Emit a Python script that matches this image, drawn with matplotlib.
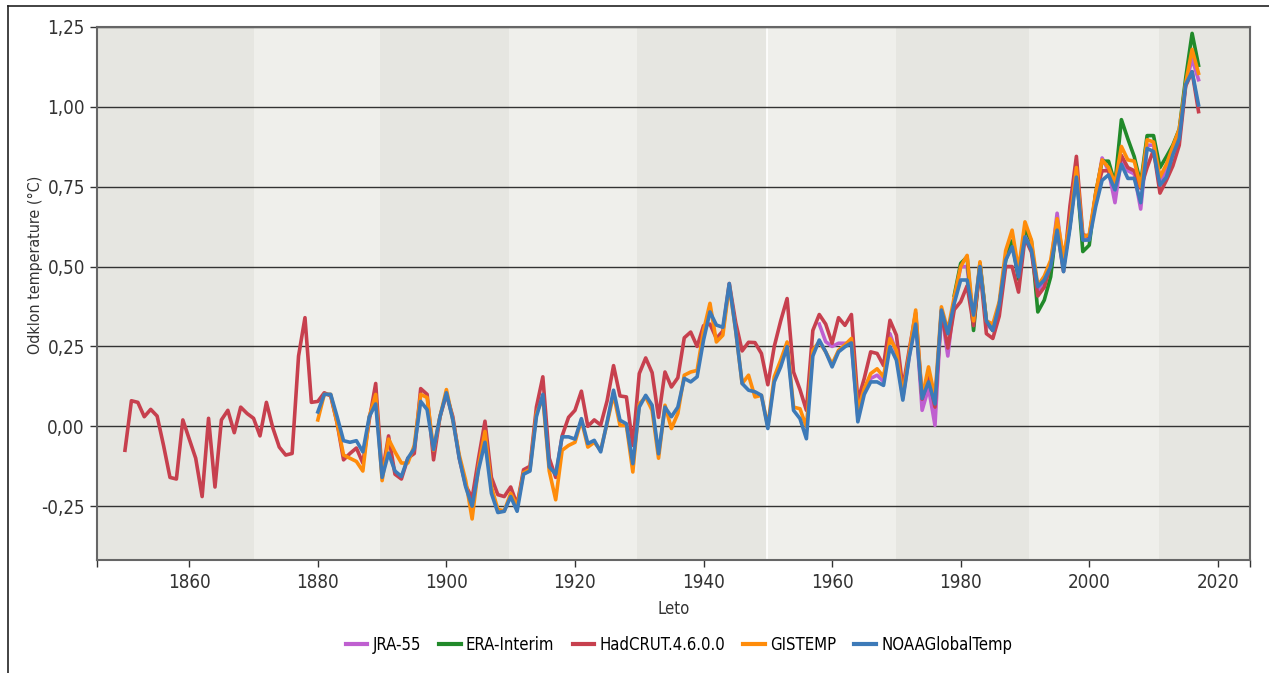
import numpy as np
import matplotlib
matplotlib.use("Agg")
import matplotlib.pyplot as plt
from matplotlib.lines import Line2D

plt.rcParams['font.family'] = ['DejaVu Sans']
plt.rcParams['font.stretch'] = 'condensed'

# --- data ---
had_years = list(range(1850, 2018))
hadcrut = [
    -0.075, 0.08, 0.075, 0.03, 0.053, 0.032, -0.06, -0.16, -0.165, 0.02,      # 1850s
    -0.04, -0.10, -0.22, 0.025, -0.19, 0.02, 0.05, -0.02, 0.06, 0.04,         # 1860s
    0.025, -0.03, 0.075, -0.005, -0.065, -0.09, -0.085, 0.22, 0.34, 0.075,    # 1870s
    0.078, 0.105, 0.095, 0.01, -0.105, -0.085, -0.068, -0.115, 0.02, 0.134,   # 1880s
    -0.15, -0.03, -0.15, -0.165, -0.10, -0.085, 0.118, 0.10, -0.105, 0.03,    # 1890s
    0.10, 0.03, -0.10, -0.185, -0.225, -0.10, 0.016, -0.16, -0.214, -0.22,    # 1900s
    -0.19, -0.245, -0.136, -0.125, 0.06, 0.155, -0.10, -0.16, -0.03, 0.028,   # 1910s
    0.05, 0.11, 0.0, 0.02, 0.004, 0.08, 0.19, 0.095, 0.092, -0.06,            # 1920s
    0.165, 0.214, 0.168, 0.028, 0.17, 0.123, 0.152, 0.277, 0.295, 0.25,       # 1930s
    0.315, 0.32, 0.275, 0.298, 0.447, 0.325, 0.236, 0.263, 0.262, 0.228,      # 1940s
    0.13, 0.25, 0.33, 0.40, 0.17, 0.115, 0.05, 0.30, 0.35, 0.32,              # 1950s
    0.26, 0.34, 0.316, 0.35, 0.08, 0.15, 0.233, 0.228, 0.19, 0.332,           # 1960s
    0.285, 0.12, 0.24, 0.355, 0.085, 0.153, 0.06, 0.358, 0.245, 0.365,        # 1970s
    0.39, 0.44, 0.315, 0.494, 0.29, 0.275, 0.345, 0.50, 0.50, 0.42,           # 1980s
    0.59, 0.545, 0.408, 0.435, 0.505, 0.618, 0.485, 0.69, 0.845, 0.60,        # 1990s
    0.594, 0.725, 0.80, 0.80, 0.75, 0.848, 0.81, 0.80, 0.745, 0.81,           # 2000s
    0.865, 0.73, 0.77, 0.815, 0.88, 1.065, 1.11, 0.985,                       # 2010s
]

gis_years = list(range(1880, 2018))
gistemp = [
    0.02, 0.10, 0.10, 0.01, -0.09, -0.10, -0.11, -0.14, 0.03, 0.10,
    -0.17, -0.04, -0.08, -0.115, -0.115, -0.06, 0.10, 0.09, -0.075, 0.03,
    0.115, 0.02, -0.09, -0.17, -0.29, -0.125, -0.016, -0.19, -0.26, -0.265,
    -0.21, -0.25, -0.145, -0.135, 0.04, 0.09, -0.14, -0.23, -0.075, -0.06,
    -0.05, 0.02, -0.065, -0.05, -0.075, 0.01, 0.10, 0.003, 0.003, -0.143,
    0.07, 0.092, 0.05, -0.10, 0.066, -0.007, 0.04, 0.16, 0.17, 0.175,
    0.30, 0.385, 0.264, 0.285, 0.44, 0.30, 0.134, 0.16, 0.092, 0.097,
    0.0, 0.155, 0.207, 0.264, 0.06, 0.055, -0.002, 0.238, 0.265, 0.233,
    0.195, 0.238, 0.255, 0.275, 0.05, 0.118, 0.165, 0.18, 0.155, 0.275,
    0.238, 0.10, 0.228, 0.364, 0.09, 0.186, 0.09, 0.374, 0.30, 0.405,
    0.50, 0.535, 0.33, 0.515, 0.33, 0.32, 0.39, 0.55, 0.614, 0.49,
    0.64, 0.583, 0.44, 0.47, 0.52, 0.65, 0.53, 0.64, 0.81, 0.593,
    0.60, 0.73, 0.834, 0.81, 0.76, 0.876, 0.834, 0.83, 0.75, 0.897,
    0.89, 0.78, 0.82, 0.876, 0.93, 1.074, 1.18, 1.105,
]

noaa_years = list(range(1880, 2018))
noaa = [
    0.045, 0.10, 0.10, 0.03, -0.045, -0.05, -0.045, -0.08, 0.03, 0.07,
    -0.16, -0.084, -0.14, -0.157, -0.10, -0.07, 0.078, 0.052, -0.073, 0.03,
    0.105, 0.02, -0.10, -0.19, -0.25, -0.136, -0.05, -0.21, -0.27, -0.266,
    -0.22, -0.266, -0.15, -0.14, 0.03, 0.10, -0.127, -0.15, -0.033, -0.033,
    -0.04, 0.024, -0.054, -0.044, -0.08, 0.014, 0.113, 0.019, 0.008, -0.117,
    0.06, 0.097, 0.066, -0.086, 0.06, 0.03, 0.06, 0.15, 0.139, 0.155,
    0.27, 0.358, 0.317, 0.31, 0.447, 0.30, 0.134, 0.113, 0.108, 0.097,
    -0.007, 0.139, 0.186, 0.249, 0.05, 0.024, -0.039, 0.22, 0.27, 0.233,
    0.186, 0.233, 0.249, 0.261, 0.014, 0.10, 0.139, 0.139, 0.128, 0.249,
    0.207, 0.082, 0.217, 0.32, 0.087, 0.139, 0.07, 0.364, 0.29, 0.385,
    0.458, 0.458, 0.348, 0.50, 0.33, 0.30, 0.38, 0.52, 0.562, 0.468,
    0.593, 0.552, 0.437, 0.458, 0.50, 0.614, 0.484, 0.62, 0.78, 0.583,
    0.583, 0.688, 0.77, 0.787, 0.74, 0.82, 0.776, 0.776, 0.70, 0.87,
    0.86, 0.755, 0.78, 0.85, 0.90, 1.07, 1.11, 1.006,
]

jra_years = list(range(1958, 2018))
jra55 = [
    0.32, 0.265, 0.25, 0.26, 0.26, 0.26, 0.03, 0.11, 0.15, 0.16, 0.14, 0.29,
    0.23, 0.09, 0.22, 0.34, 0.05, 0.12, 0.003, 0.36, 0.22, 0.395,
    0.50, 0.50, 0.32, 0.51, 0.32, 0.30, 0.38, 0.53, 0.58, 0.47,
    0.62, 0.57, 0.42, 0.45, 0.50, 0.667, 0.50, 0.63, 0.80, 0.58,
    0.59, 0.72, 0.84, 0.80, 0.70, 0.84, 0.80, 0.79, 0.68, 0.88,
    0.88, 0.76, 0.80, 0.87, 0.92, 1.07, 1.15, 1.085,
]

era_years = list(range(1979, 2018))
era_interim = [
    0.41, 0.51, 0.53, 0.30, 0.51, 0.33, 0.30, 0.38, 0.52, 0.58,
    0.46, 0.62, 0.58, 0.358, 0.395, 0.468, 0.64, 0.50, 0.63, 0.80,
    0.547, 0.567, 0.73, 0.83, 0.83, 0.76, 0.96, 0.90, 0.844, 0.76,
    0.91, 0.91, 0.81, 0.844, 0.88, 0.93, 1.09, 1.23, 1.13,
]

series = [
    ("JRA-55", jra_years, jra55, "#bf5fd0"),
    ("ERA-Interim", era_years, era_interim, "#218a2a"),
    ("HadCRUT.4.6.0.0", had_years, hadcrut, "#c7404e"),
    ("GISTEMP", gis_years, gistemp, "#ff8c0a"),
    ("NOAAGlobalTemp", noaa_years, noaa, "#3d7ab8"),
]

band_edges = [1845.6, 1870, 1889.7, 1909.8, 1929.7, 1949.8, 1970, 1990.6, 2010.9, 2025.0]
yticks = [-0.25, 0.0, 0.25, 0.5, 0.75, 1.0, 1.25]
xticks = [1860, 1880, 1900, 1920, 1940, 1960, 1980, 2000, 2020]
x0, x1 = 1845.6, 2025.0

fig = plt.figure(figsize=(12.69, 6.73), dpi=100)
ax = fig.add_axes([0.0762, 0.1672, 0.9088, 0.7927])

# alternating background bands
for i in range(len(band_edges) - 1):
    col = "#e6e6e1" if i % 2 == 0 else "#efefeb"
    ax.axvspan(band_edges[i], band_edges[i + 1], color=col, lw=0, zorder=0)
ax.axvline(1949.8, color="white", lw=1.2, zorder=0.5)

for y in yticks:
    ax.axhline(y, color="#333333", lw=1.0, zorder=1)

for z, (name, yrs, vals, col) in enumerate(series):
    ax.plot(yrs, vals, color=col, lw=2.6, label=name, zorder=3 + z)

ax.set_xlim(x0, x1)
ax.set_ylim(-0.42, 1.25)
ax.set_xticks(xticks)
ax.set_xticks([x0, x1], minor=True)
ax.set_yticks(yticks)
ax.set_yticklabels([f"{v:.2f}".replace(".", ",") for v in yticks])
ax.tick_params(axis="both", which="both", labelsize=13.5, colors="#333333", length=5, width=1)
ax.tick_params(axis="x", pad=4)
for s in ax.spines.values():
    s.set_color("#666666")
    s.set_linewidth(1.5)

ax.set_xlabel("Leto", fontsize=12, color="#333333")
ax.xaxis.set_label_coords(0.5, -0.074)
ax.set_ylabel("Odklon temperature (°C)", fontsize=11.5, color="#333333")
ax.yaxis.set_label_coords(-0.0466, 0.555)

leg = fig.legend(loc="center", bbox_to_anchor=(0.535, 0.042), ncol=5, frameon=False,
                 fontsize=12, handlelength=1.3, handletextpad=0.3, columnspacing=1.1)
for h in leg.get_lines():
    h.set_linewidth(3)

# outer frame (left and top)
fig.add_artist(Line2D([0.0063, 0.0063], [0.0, 0.991], color="#222222", lw=1.2))
fig.add_artist(Line2D([0.0063, 1.0], [0.991, 0.991], color="#222222", lw=1.2))

fig.savefig("out.png", dpi=100)
